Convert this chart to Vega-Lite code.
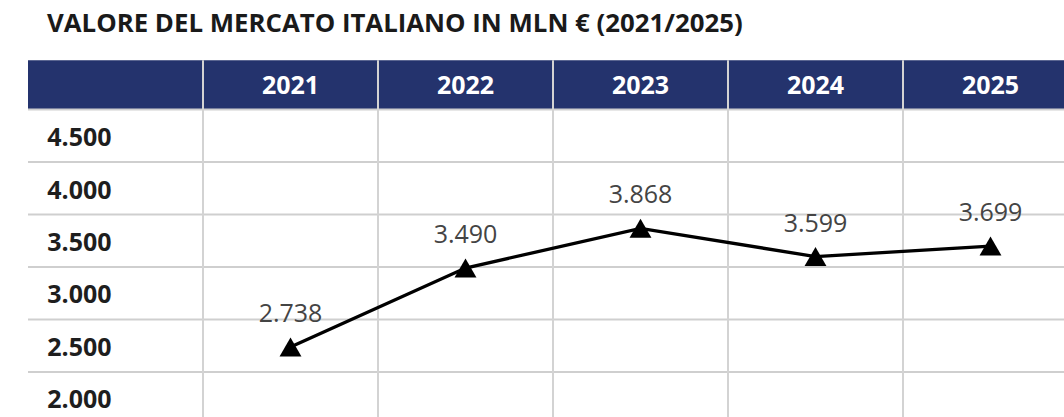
{
  "$schema": "https://vega.github.io/schema/vega-lite/v6.json",
  "width": 1064,
  "height": 359,
  "autosize": {"type": "none"},
  "padding": {"left": 0, "right": 0, "top": 58, "bottom": 0},
  "background": "white",
  "title": {
    "text": "VALORE DEL MERCATO ITALIANO IN MLN € (2021/2025)",
    "anchor": "start",
    "frame": "group",
    "dx": 47,
    "dy": 24,
    "offset": 24,
    "baseline": "alphabetic",
    "font": "Open Sans",
    "fontSize": 25.8,
    "fontWeight": "bold",
    "color": "#1a1a1a"
  },
  "config": {
    "view": {"stroke": null},
    "locale": {"number": {"decimal": ",", "thousands": ".", "grouping": [3], "currency": ["", " €"]}}
  },
  "datasets": {
    "mercato": [
      {"anno": 2021, "valore": 2738},
      {"anno": 2022, "valore": 3490},
      {"anno": 2023, "valore": 3868},
      {"anno": 2024, "valore": 3599},
      {"anno": 2025, "valore": 3699}
    ],
    "righe": [
      {"v": 4500}, {"v": 4000}, {"v": 3500}, {"v": 3000}, {"v": 2500}, {"v": 2000}
    ],
    "griglia": [
      {"g": 5000}, {"g": 4500}, {"g": 4000}, {"g": 3500}, {"g": 3000}, {"g": 2500}
    ],
    "bordi": [
      {"b": 2020.5}, {"b": 2021.5}, {"b": 2022.5}, {"b": 2023.5}, {"b": 2024.5}, {"b": 2025.5}
    ],
    "anni": [
      {"anno": 2021}, {"anno": 2022}, {"anno": 2023}, {"anno": 2024}, {"anno": 2025}
    ]
  },
  "layer": [
    {
      "data": {"values": [{"x0": 2019.5, "x1": 2025.6, "y0": 5000, "y1": 5470}]},
      "mark": {"type": "rect", "color": "#24336d", "clip": true},
      "encoding": {
        "x": {"field": "x0", "type": "quantitative", "scale": {"domain": [2019.34, 2025.42], "nice": false, "zero": false}, "axis": null},
        "x2": {"field": "x1"},
        "y": {"field": "y0", "type": "quantitative", "scale": {"domain": [2071.4, 5490.5], "nice": false, "zero": false}, "axis": null},
        "y2": {"field": "y1"}
      }
    },
    {
      "data": {"name": "griglia"},
      "mark": {"type": "rule", "color": "#cfcfcf", "strokeWidth": 2, "clip": true},
      "encoding": {
        "x": {"datum": 2019.5, "type": "quantitative", "scale": {"domain": [2019.34, 2025.42], "nice": false, "zero": false}, "axis": null},
        "x2": {"datum": 2025.6},
        "y": {"field": "g", "type": "quantitative", "scale": {"domain": [2071.4, 5490.5], "nice": false, "zero": false}, "axis": null}
      }
    },
    {
      "data": {"name": "bordi"},
      "mark": {"type": "rule", "color": "#d3d3d3", "strokeWidth": 2, "clip": true},
      "encoding": {
        "x": {"field": "b", "type": "quantitative", "scale": {"domain": [2019.34, 2025.42], "nice": false, "zero": false}, "axis": null},
        "y": {"datum": 2000, "type": "quantitative", "scale": {"domain": [2071.4, 5490.5], "nice": false, "zero": false}, "axis": null},
        "y2": {"datum": 5470}
      }
    },
    {
      "data": {"name": "anni"},
      "mark": {"type": "text", "color": "white", "font": "Open Sans", "fontSize": 25, "fontWeight": "bold", "baseline": "middle", "align": "center"},
      "encoding": {
        "x": {"field": "anno", "type": "quantitative", "scale": {"domain": [2019.34, 2025.42], "nice": false, "zero": false}, "axis": null},
        "y": {"datum": 5225, "type": "quantitative", "scale": {"domain": [2071.4, 5490.5], "nice": false, "zero": false}, "axis": null},
        "text": {"field": "anno", "type": "nominal"}
      }
    },
    {
      "data": {"name": "righe"},
      "mark": {"type": "text", "color": "#1e1e1e", "font": "Open Sans", "fontSize": 25, "fontWeight": "bold", "baseline": "middle", "align": "left", "dy": -24},
      "encoding": {
        "x": {"datum": 2019.61, "type": "quantitative", "scale": {"domain": [2019.34, 2025.42], "nice": false, "zero": false}, "axis": null},
        "y": {"field": "v", "type": "quantitative", "scale": {"domain": [2071.4, 5490.5], "nice": false, "zero": false}, "axis": null},
        "text": {"field": "v", "type": "quantitative", "format": ","}
      }
    },
    {
      "data": {"name": "mercato"},
      "mark": {"type": "line", "color": "black", "strokeWidth": 3.3},
      "encoding": {
        "x": {"field": "anno", "type": "quantitative", "scale": {"domain": [2019.34, 2025.42], "nice": false, "zero": false}, "axis": null},
        "y": {"field": "valore", "type": "quantitative", "scale": {"domain": [2071.4, 5490.5], "nice": false, "zero": false}, "axis": null}
      }
    },
    {
      "data": {"name": "mercato"},
      "mark": {"type": "point", "shape": "triangle-up", "filled": true, "color": "black", "opacity": 1, "size": 480},
      "encoding": {
        "x": {"field": "anno", "type": "quantitative", "scale": {"domain": [2019.34, 2025.42], "nice": false, "zero": false}, "axis": null},
        "y": {"field": "valore", "type": "quantitative", "scale": {"domain": [2071.4, 5490.5], "nice": false, "zero": false}, "axis": null}
      }
    },
    {
      "data": {"name": "mercato"},
      "mark": {"type": "text", "color": "#444444", "font": "Open Sans", "fontSize": 25, "baseline": "middle", "align": "center", "dy": -33},
      "encoding": {
        "x": {"field": "anno", "type": "quantitative", "scale": {"domain": [2019.34, 2025.42], "nice": false, "zero": false}, "axis": null},
        "y": {"field": "valore", "type": "quantitative", "scale": {"domain": [2071.4, 5490.5], "nice": false, "zero": false}, "axis": null},
        "text": {"field": "valore", "type": "quantitative", "format": ","}
      }
    }
  ]
}
